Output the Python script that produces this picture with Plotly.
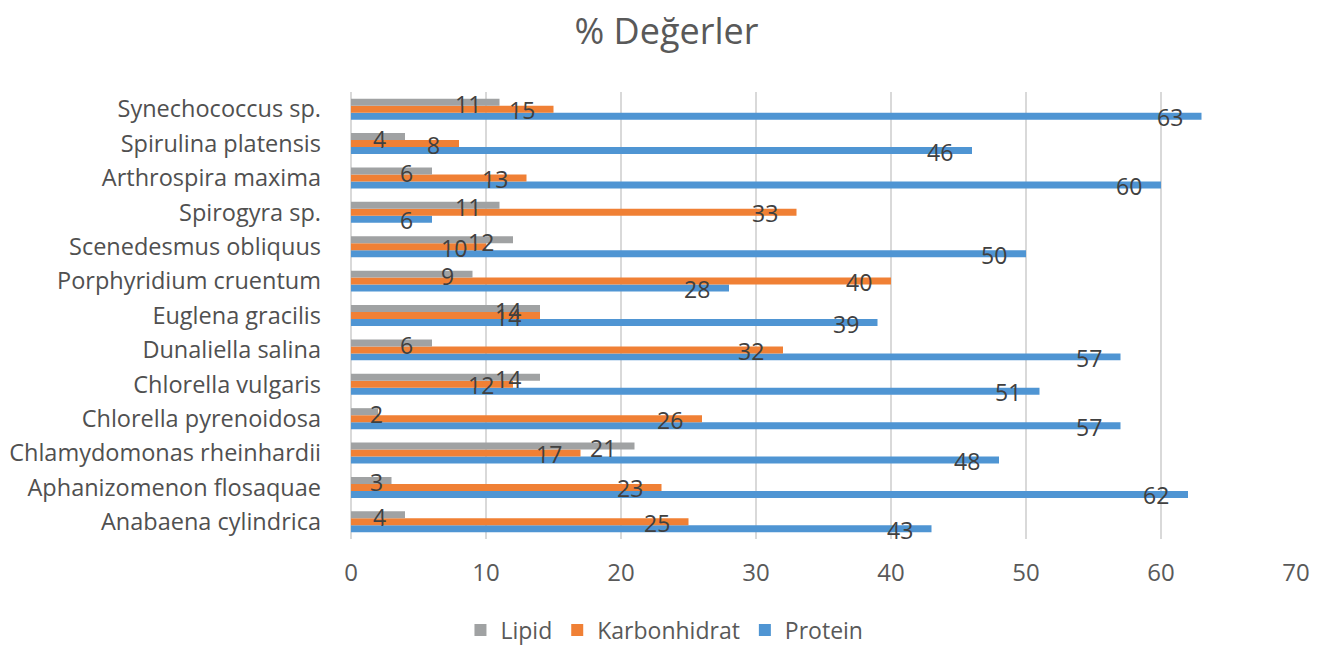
import plotly.graph_objects as go

categories = [
    "Anabaena cylindrica", "Aphanizomenon flosaquae", "Chlamydomonas rheinhardii",
    "Chlorella pyrenoidosa", "Chlorella vulgaris", "Dunaliella salina",
    "Euglena gracilis", "Porphyridium cruentum", "Scenedesmus obliquus",
    "Spirogyra sp.", "Arthrospira maxima", "Spirulina platensis", "Synechococcus sp.",
]
lipid = [4, 3, 21, 2, 14, 6, 14, 9, 12, 11, 6, 4, 11]
karbonhidrat = [25, 23, 17, 26, 12, 32, 14, 40, 10, 33, 13, 8, 15]
protein = [43, 62, 48, 57, 51, 57, 39, 28, 50, 6, 60, 46, 63]
x_ticks = [0, 10, 20, 30, 40, 50, 60, 70]

FONT = "Open Sans"
series = [
    ("Protein", protein, "#4F95D3", -8),
    ("Karbonhidrat", karbonhidrat, "#F08035", -1),
    ("Lipid", lipid, "#A0A2A3", 5),
]

fig = go.Figure()
annotations = []
for name, vals, color, yshift in series:
    fig.add_trace(go.Bar(
        name=name, y=categories, x=vals, orientation="h",
        marker=dict(color=color, line=dict(width=0)),
        hoverinfo="x+name",
    ))
    for cat, v in zip(categories, vals):
        if v <= 3:
            ann = dict(x=0, xanchor="left", xshift=17)
        else:
            ann = dict(x=v, xanchor="right", xshift=-17)
        ann.update(y=cat, yanchor="middle", yshift=yshift, text=str(v),
                   showarrow=False,
                   font=dict(family=FONT, size=23, color="#404040"))
        annotations.append(ann)

fig.update_layout(
    width=1321, height=645,
    barmode="group", bargap=0.39, bargroupgap=0,
    paper_bgcolor="white", plot_bgcolor="white",
    margin=dict(l=351, r=25, t=92, b=106),
    title=dict(text="% Değerler", x=0.5045, xanchor="center", y=0.952, yanchor="middle",
               font=dict(family=FONT, size=36, color="#595959")),
    font=dict(family=FONT, color="#595959"),
    xaxis=dict(range=[0, 70], tickvals=x_ticks, showgrid=True, gridcolor="#D9D9D9",
               gridwidth=2, zeroline=True, zerolinecolor="#D9D9D9", zerolinewidth=2,
               showline=False, ticks="outside", ticklen=0, tickcolor="#D9D9D9",
               ticklabelstandoff=12, automargin=False,
               tickfont=dict(family=FONT, size=24, color="#595959"),
               fixedrange=True),
    yaxis=dict(type="category", categoryorder="array", categoryarray=categories,
               range=[-0.5, len(categories) - 0.5],
               showgrid=False, zeroline=False, showline=False, ticks="",
               ticklabelstandoff=29, automargin=False,
               tickfont=dict(family=FONT, size=23.5, color="#505050"), fixedrange=True),
    legend=dict(orientation="h", xref="container", yref="container",
                x=0.503, xanchor="center", y=0.0233, yanchor="middle",
                traceorder="reversed", font=dict(family=FONT, size=23, color="#595959"),
                itemclick=False),
    annotations=annotations,
)

fig.write_html("out.html", config={"displayModeBar": False},
               post_script="document.body.style.margin='0';document.body.style.overflow='hidden';")
